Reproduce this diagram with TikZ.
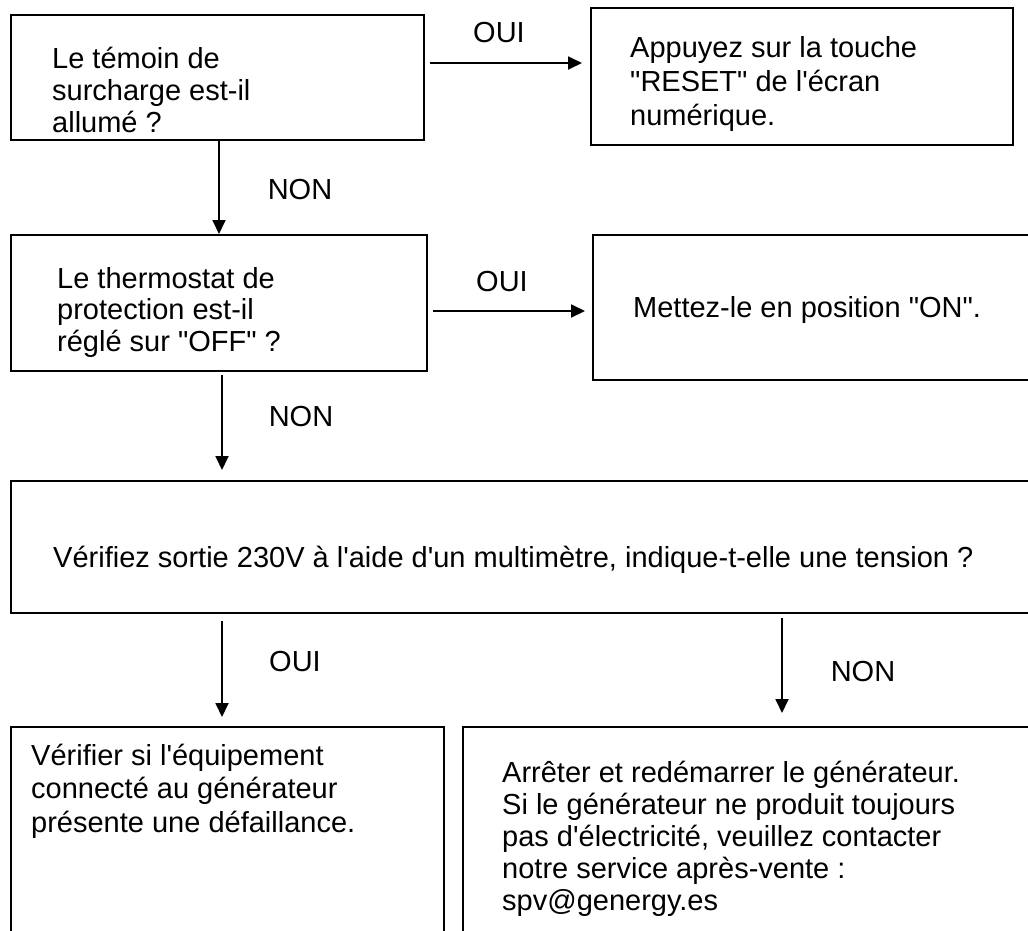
\documentclass[tikz,border=0pt]{standalone}
\usepackage{fontspec}
\setmainfont{Liberation Sans}[Ligatures=TeXOff]
\usetikzlibrary{arrows.meta}
\newcommand\flines[2]{\fontsize{29}{#1}\selectfont\begin{tabular}[t]{@{}l@{}}#2\end{tabular}}
\tikzset{
  box/.style={draw=black, line width=1.8pt, rectangle, inner sep=0pt, anchor=north west},
  txt/.style={inner sep=0pt, anchor=base west, font=\fontsize{29}{33}\selectfont},
  lbl/.style={inner sep=0pt, anchor=center, font=\fontsize{29}{33}\selectfont},
  arr/.style={draw=black, line width=1.8pt, -{Triangle[length=14pt,width=13pt]}},
}
\begin{document}
\begin{tikzpicture}[x=1pt,y=-1pt]
\useasboundingbox (0,0) rectangle (1028,930);
\clip (0,0) rectangle (1028,930);
\fill[white] (0,0) rectangle (1028,930);
% boxes
\node[box, minimum width=413pt, minimum height=125pt] (b1) at (10,14) {};
\node[box, minimum width=422pt, minimum height=137pt] (b2) at (590,7) {};
\node[box, minimum width=416pt, minimum height=136pt] (b3) at (10,234) {};
\node[box, minimum width=448pt, minimum height=145pt] (b4) at (592,234) {};
\node[box, minimum width=1030pt, minimum height=132pt] (b5) at (10,480) {};
\node[box, minimum width=433pt, minimum height=219pt] (b6) at (10,726) {};
\node[box, minimum width=578pt, minimum height=219pt] (b7) at (462,726) {};
% texts
\node[txt] (t1) at (52,68) {\flines{32pt}{Le témoin de\\surcharge est-il\\allumé ?}};
\node[txt] (t2) at (630,57) {\flines{34pt}{Appuyez sur la touche\\"RESET" de l'écran\\numérique.}};
\node[txt] (t3) at (57,288) {\flines{31.5pt}{Le thermostat de\\protection est-il\\réglé sur "OFF" ?}};
\node[txt] (t4) at (633,317) {Mettez-le en position "ON".};
\node[txt] (t5) at (53,567) {Vérifiez sortie 230V à l'aide d'un multimètre, indique-t-elle une tension ?};
\node[txt] (t6) at (31,765) {\flines{33.5pt}{Vérifier si l'équipement\\connecté au générateur\\présente une défaillance.}};
\node[txt] (t7) at (502,782) {\flines{32pt}{Arrêter et redémarrer le générateur.\\Si le générateur ne produit toujours\\pas d'électricité, veuillez contacter\\notre service après-vente :\\spv@genergy.es}};
% labels
\node[lbl] (l1) at (499,33) {OUI};
\node[lbl] (l2) at (300,190) {NON};
\node[lbl] (l3) at (502,282) {OUI};
\node[lbl] (l4) at (301,417) {NON};
\node[lbl] (l5) at (295,662) {OUI};
\node[lbl] (l6) at (863,672) {NON};
% connector guides
\coordinate (y1) at (0,63);
\coordinate (y2) at (0,311);
\coordinate (x1) at (219,0);
\coordinate (x2) at (222,0);
\coordinate (x3) at (782,0);
% connectors
\draw[arr, shorten <=5pt, shorten >=8pt] (b1.east |- y1) -- (b2.west |- y1);
\draw[arr, shorten <=5pt, shorten >=7pt] (b3.east |- y2) -- (b4.west |- y2);
\draw[arr] (b1.south -| x1) -- (b3.north -| x1);
\draw[arr, shorten <=3pt, shorten >=10pt] (b3.south -| x2) -- (b5.north -| x2);
\draw[arr, shorten <=7pt, shorten >=9pt] (b5.south -| x2) -- (b6.north -| x2);
\draw[arr, shorten <=4pt, shorten >=13pt] (b5.south -| x3) -- (b7.north -| x3);
\end{tikzpicture}
\end{document}
